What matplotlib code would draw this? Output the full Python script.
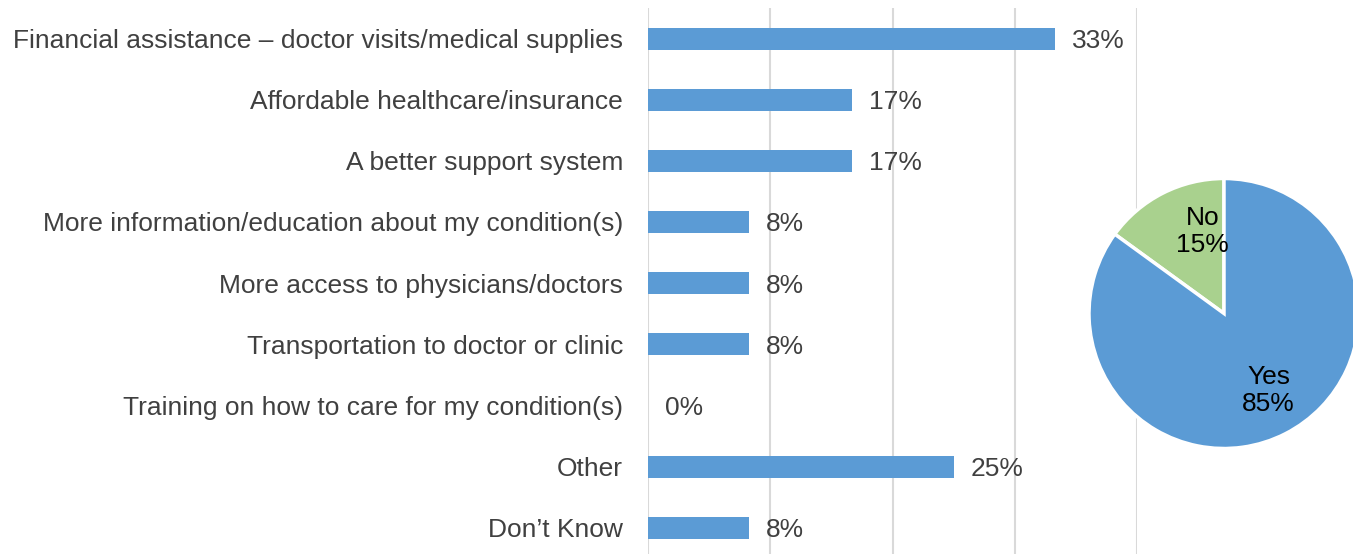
import matplotlib.pyplot as plt

categories = ["Financial assistance \u2013 doctor visits/medical supplies",
              "Affordable healthcare/insurance",
              "A better support system",
              "More information/education about my condition(s)",
              "More access to physicians/doctors",
              "Transportation to doctor or clinic",
              "Training on how to care for my condition(s)",
              "Other",
              "Don\u2019t Know"]
values = [33.3, 16.7, 16.7, 8.3, 8.3, 8.3, 0.0, 25.0, 8.3]

pie_labels = ["No", "Yes"]
pie_values = [15, 85]

plt.rcParams['font.family'] = ['Liberation Sans', 'DejaVu Sans']
blue = '#5B9BD5'
green = '#A9D18E'
grey = '#404040'
fs = 19

fig = plt.figure(figsize=(13.53, 5.54), dpi=100)
ax = fig.add_axes([648 / 1353, 0, 489 / 1353, 546 / 554])
y = list(range(len(categories)))
ax.barh(y, values, height=0.36, color=blue, zorder=2)
for i, v in enumerate(values):
    ax.annotate(f"{v:.0f}%", (v, i), xytext=(12, 0), textcoords='offset points',
                va='center_baseline', ha='left', fontsize=fs, color=grey)
ax.set_xlim(0, 40)
ax.set_ylim(8.43, -0.5)
ax.set_xticks([0, 10, 20, 30, 40])
ax.set_xticklabels([])
ax.set_yticks(y)
ax.set_yticklabels(categories, fontsize=fs, color=grey, va='center_baseline')
ax.tick_params(length=0, pad=18)
ax.grid(axis='x', color='#D9D9D9', linewidth=1.5, zorder=0)
for s in ax.spines.values():
    s.set_visible(False)

pax = fig.add_axes([1089 / 1353, 105.5 / 554, 270 / 1353, 270 / 554])
pax.pie(pie_values, colors=[green, blue], startangle=90, radius=1,
        wedgeprops=dict(edgecolor='white', linewidth=2.5))
pax.text(-0.16, 0.61, f"{pie_labels[0]}\n{pie_values[0]}%", ha='center', va='center',
         fontsize=fs, color='black', linespacing=1.15)
pax.text(0.33, -0.57, f"{pie_labels[1]}\n{pie_values[1]}%", ha='center', va='center',
         fontsize=fs, color='black', linespacing=1.15)
pax.set_xlim(-1, 1)
pax.set_ylim(-1, 1)
pax.set_aspect('equal')
pax.axis('off')

fig.savefig('out.png', dpi=100)
